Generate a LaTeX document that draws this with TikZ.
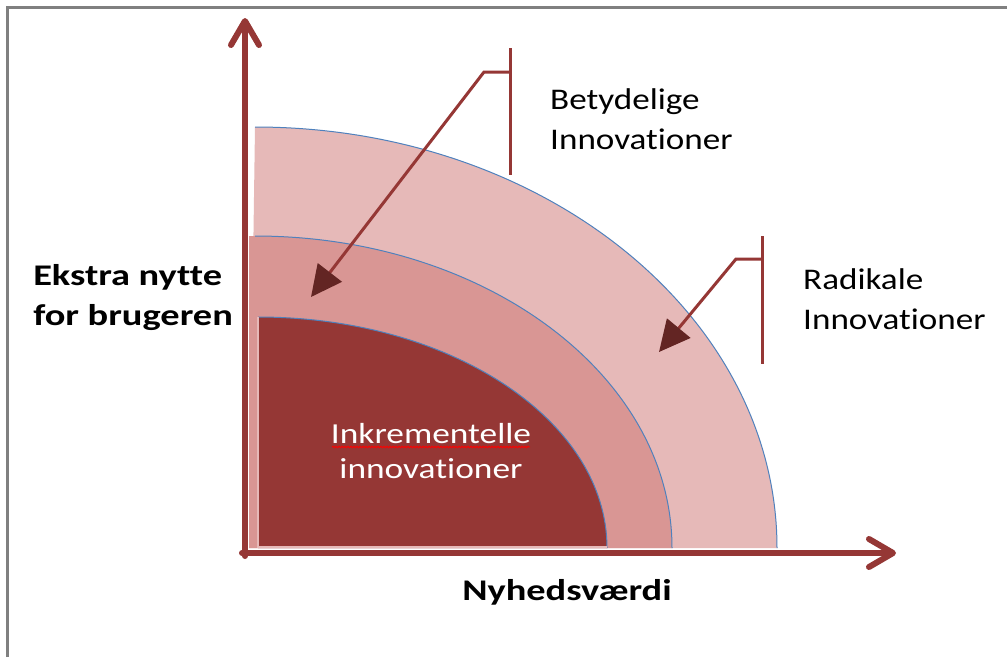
\documentclass[tikz,border=0pt]{standalone}
\usepackage{fontspec}
\setmainfont{Carlito}[Ligatures=CommonOff]
\usetikzlibrary{arrows.meta,decorations.pathmorphing}
\definecolor{axisred}{HTML}{953735}
\definecolor{outerpink}{HTML}{E6B9B8}
\definecolor{midpink}{HTML}{D99694}
\definecolor{innerred}{HTML}{953735}
\definecolor{arcblue}{HTML}{4F81BD}
\definecolor{headred}{HTML}{632523}
\definecolor{framegray}{HTML}{808080}
\definecolor{edgepink}{HTML}{E6B9B8}
\tikzset{
  axisline/.style={draw=axisred, line width=6pt, line cap=round,
    -{Straight Barb[length=24pt, width=28pt, round]}},
  calloutline/.style={draw=axisred, line width=3pt},
  calloutarrow/.style={calloutline, -{Triangle[length=31pt, width=30pt, color=headred]}},
  arcline/.style={draw=arcblue, line width=1pt},
  labeltext/.style={inner sep=0pt, font=\fontsize{30}{39.5}\selectfont, align=left, xscale=1.17},
  boldtext/.style={inner sep=0pt, font=\fontsize{30}{40}\selectfont\bfseries, align=left, xscale=1.28},
  whitetext/.style={inner sep=0pt, font=\fontsize{29}{35}\selectfont, align=center, text=white, xscale=1.22},
  spellwave/.style={draw=red, line width=0.9pt, decorate, decoration={snake, amplitude=0.7pt, segment length=3pt}},
}
\begin{document}
\begin{tikzpicture}[x=1pt, y=-1pt]
\useasboundingbox (0,0) rectangle (1007,657);
\fill[white] (0,0) rectangle (1007,657);
% frame
\draw[framegray, line width=3pt] (7,657) -- (7,7) -- (1007,7);
% quarter ellipses
\fill[outerpink] (249,548) -- (255,127) arc[start angle=-90, end angle=0, x radius=522, y radius=421] -- cycle;
\draw[arcline] (255,127) arc[start angle=-90, end angle=0, x radius=522, y radius=421];
\fill[midpink] (249,548) -- (249,236) -- (255,236) arc[start angle=-90, end angle=0, x radius=417, y radius=312] -- cycle;
\draw[arcline] (255,236) arc[start angle=-90, end angle=0, x radius=417, y radius=312];
\fill[innerred] (258,548) -- (258,317) arc[start angle=-90, end angle=0, x radius=349, y radius=231] -- cycle;
\draw[arcline] (258,317) arc[start angle=-90, end angle=0, x radius=349, y radius=231];
\draw[edgepink, line width=2pt] (258,317) -- (258,547) -- (607,547);
% axes
\coordinate (origin) at (245,553);
\coordinate (ytop) at (245,18);
\coordinate (xend) at (896,553);
\draw[axisline] (245,556) -- (ytop);
\draw[axisline] (242,553) -- (xend);
% callout Betydelige
\coordinate (bTop) at (510,48);
\coordinate (bBot) at (510,175);
\coordinate (bJoin) at (510,72);
\coordinate (bKnee) at (484,72);
\coordinate (bTip) at (311,297);
\draw[calloutline] (bTop) -- (bBot);
\draw[calloutarrow] (bJoin) -- (bKnee) -- (bTip);
% callout Radikale
\coordinate (rTop) at (762,236);
\coordinate (rBot) at (762,364);
\coordinate (rJoin) at (762,259);
\coordinate (rKnee) at (736,259);
\coordinate (rTip) at (659,352);
\draw[calloutline] (rTop) -- (rBot);
\draw[calloutarrow] (rJoin) -- (rKnee) -- (rTip);
% labels (base anchor = baseline of last line)
\node[labeltext, anchor=base west] (betyd) at (550,149) {Betydelige\\Innovationer};
\node[labeltext, anchor=base west] (radik) at (803,329) {Radikale\\Innovationer};
\node[boldtext, anchor=base west] (ekstra) at (33,325) {Ekstra nytte\\for brugeren};
\node[boldtext, anchor=base] (nyhed) at (567,600) {Nyhedsværdi};
\node[whitetext, anchor=base] (inkr) at (431,478) {Inkrementelle\\innovationer};
\coordinate (waveL) at (332,447);
\coordinate (waveR) at (530,447);
\draw[spellwave] (waveL) -- (waveR);
\end{tikzpicture}
\end{document}
